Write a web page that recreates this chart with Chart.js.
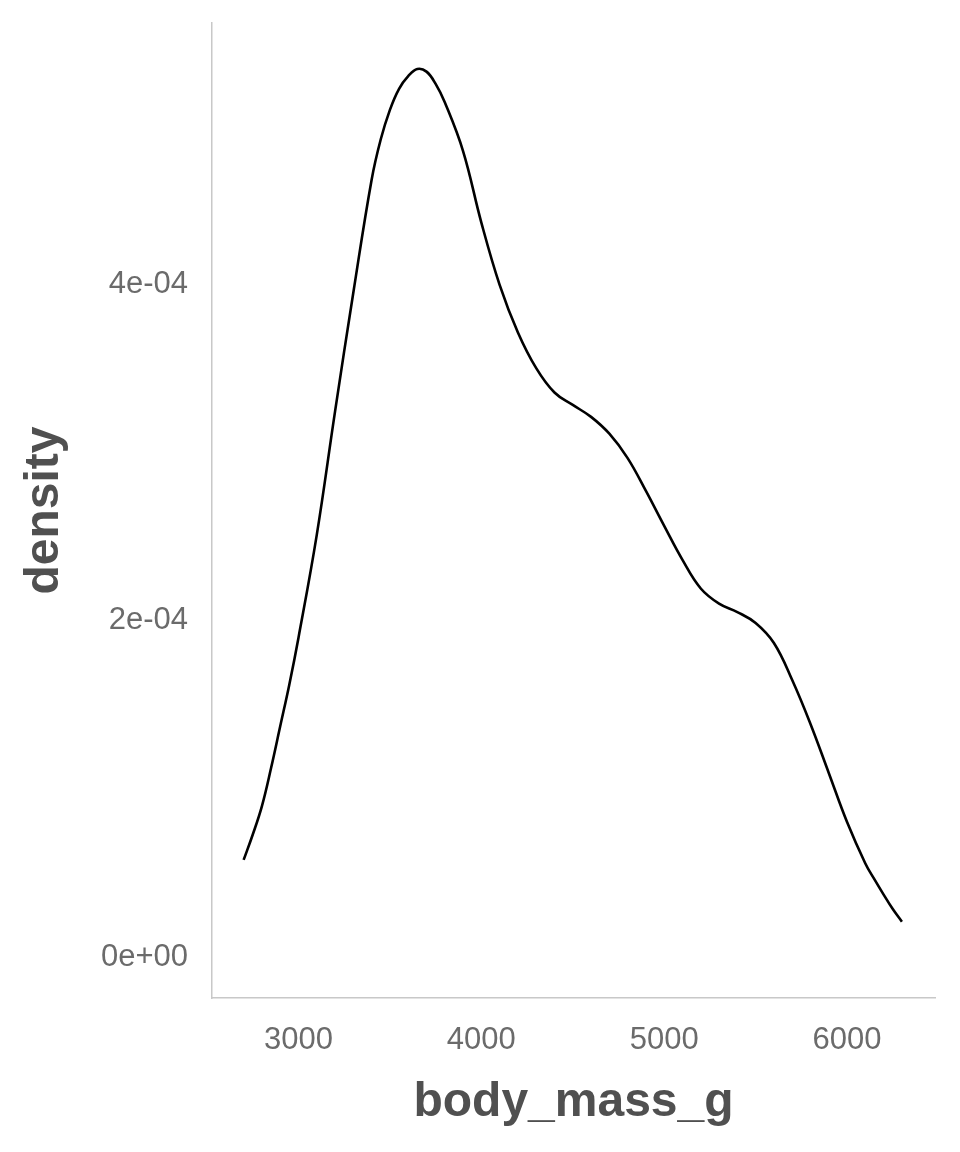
<!DOCTYPE html>
<html>
<head>
<meta charset="utf-8">
<title>body_mass_g density</title>
<script src="https://cdn.jsdelivr.net/npm/chart.js@4.4.1/dist/chart.umd.min.js"></script>
<style>
  html, body { margin: 0; padding: 0; background: #ffffff; }
  #wrap { width: 960px; height: 1152px; }
</style>
</head>
<body>
<div id="wrap"><canvas id="densityChart" width="960" height="1152"></canvas></div>
<script>
// --- Data ---
const massValues = [2700, 2750, 2800, 2850, 2900, 2950, 3000, 3100, 3200, 3300, 3400, 3450, 3500, 3550,
  3600, 3650, 3700, 3750, 3800, 3900, 4000, 4100, 4200, 4300,
  4400, 4500, 4600, 4700, 4800, 4900, 5000, 5100, 5200, 5300,
  5400, 5500, 5600, 5700, 5800, 5900, 6000, 6100, 6150, 6200, 6250, 6300];
const densityValues = [0.0000577, 0.0000728, 0.0000897, 0.0001123, 0.0001371, 0.0001620, 0.0001898, 0.0002509, 0.0003243, 0.0003949, 0.0004620, 0.0004860, 0.0005035, 0.0005160,
  0.0005235, 0.0005278, 0.0005262, 0.0005189, 0.0005080, 0.0004790, 0.0004365, 0.0003995, 0.0003712, 0.0003500,
  0.0003355, 0.0003281, 0.0003210, 0.0003110, 0.0002965, 0.0002770, 0.0002562, 0.0002360, 0.0002190, 0.0002100,
  0.0002050, 0.0001985, 0.0001866, 0.0001646, 0.0001385, 0.0001094, 0.0000802, 0.0000556, 0.0000461, 0.0000371, 0.0000285, 0.0000210];

const xTickValues = [3000, 4000, 5000, 6000];
const yTickValues = [0, 0.0002, 0.0004];
const yTickLabels = ['0e+00', '2e-04', '4e-04'];

const xTitle = 'body_mass_g';
const yTitle = 'density';

// --- Styles ---
const tickColor = '#6b6b6b';
const titleColor = '#505050';
const axisColor = '#c8c8c8';
const fontFamily = "'Liberation Sans', Arial, Helvetica, sans-serif";

const points = massValues.map((m, i) => ({ x: m, y: densityValues[i] }));

const ctx = document.getElementById('densityChart').getContext('2d');
new Chart(ctx, {
  type: 'line',
  data: {
    datasets: [{
      data: points,
      borderColor: '#000000',
      borderWidth: 2.6,
      pointRadius: 0,
      fill: false,
      tension: 0.4
    }]
  },
  options: {
    responsive: false,
    animation: false,
    layout: { padding: { top: 23, right: 25, left: 0, bottom: 0 } },
    plugins: {
      legend: { display: false },
      tooltip: { enabled: false }
    },
    scales: {
      x: {
        type: 'linear',
        min: 2527,
        max: 6481,
        afterBuildTicks: (scale) => { scale.ticks = xTickValues.map(v => ({ value: v })); },
        afterFit: (scale) => {
          scale.height = 154;
          scale.paddingLeft = 0;
          scale.paddingRight = 0;
        },
        grid: { display: false, drawTicks: false },
        border: { display: true, color: axisColor, width: 1.5 },
        ticks: {
          color: tickColor,
          padding: 24,
          maxRotation: 0,
          font: { family: fontFamily, size: 31 },
          callback: (v) => String(v)
        },
        title: {
          display: true,
          text: xTitle,
          color: titleColor,
          padding: { top: 0, bottom: 25 },
          font: { family: fontFamily, size: 48, weight: 'bold', lineHeight: 1 }
        }
      },
      y: {
        type: 'linear',
        min: -0.00002437,
        max: 0.0005551,
        afterBuildTicks: (scale) => { scale.ticks = yTickValues.map(v => ({ value: v })); },
        afterFit: (scale) => {
          scale.width = 212;
          // tick padding would otherwise push the plot area down from the top
          scale.paddingTop = 0;
          scale.paddingBottom = 0;
        },
        grid: { display: false, drawTicks: false },
        border: { display: true, color: axisColor, width: 1.5 },
        ticks: {
          color: tickColor,
          padding: 24,
          font: { family: fontFamily, size: 31 },
          callback: (v) => {
            const i = yTickValues.indexOf(v);
            return i >= 0 ? yTickLabels[i] : '';
          }
        },
        title: {
          display: true,
          text: yTitle,
          color: titleColor,
          padding: { top: 21, bottom: 0 },
          font: { family: fontFamily, size: 48, weight: 'bold', lineHeight: 1 }
        }
      }
    }
  }
});
</script>
</body>
</html>
